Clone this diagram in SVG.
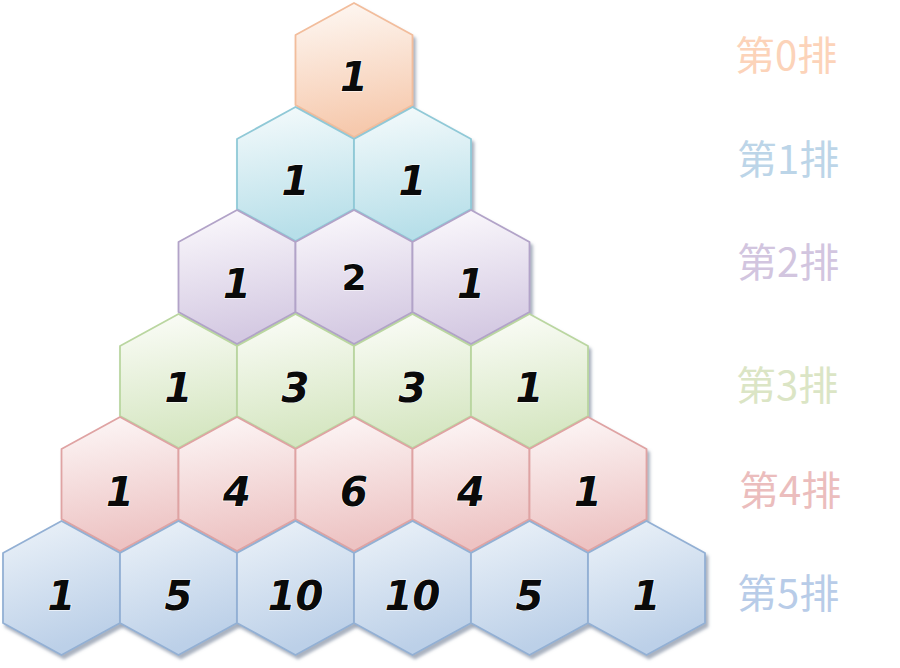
<svg xmlns="http://www.w3.org/2000/svg" xmlns:xlink="http://www.w3.org/1999/xlink" width="900" height="668" viewBox="0 0 900 668">
<defs>
  <polygon id="hex" points="0,-67 58.5,-35 58.5,35 0,67 -58.5,35 -58.5,-35"/>
  <filter id="sh" x="-20%" y="-20%" width="150%" height="150%">
    <feDropShadow dx="2.5" dy="3.5" stdDeviation="1.5" flood-color="#6f7f95" flood-opacity="0.6"/>
  </filter>
  <linearGradient id="g0" x1="0" y1="0" x2="0.15" y2="1"><stop offset="0" stop-color="#fef9f5"/><stop offset="1" stop-color="#f6c9ad"/></linearGradient>
  <linearGradient id="g1" x1="0" y1="0" x2="0.15" y2="1"><stop offset="0" stop-color="#f6fbfc"/><stop offset="1" stop-color="#b7dfe9"/></linearGradient>
  <linearGradient id="g2" x1="0" y1="0" x2="0.15" y2="1"><stop offset="0" stop-color="#fcfafd"/><stop offset="1" stop-color="#d4c9e2"/></linearGradient>
  <linearGradient id="g3" x1="0" y1="0" x2="0.15" y2="1"><stop offset="0" stop-color="#fcfdf9"/><stop offset="1" stop-color="#d5e6c1"/></linearGradient>
  <linearGradient id="g4" x1="0" y1="0" x2="0.15" y2="1"><stop offset="0" stop-color="#fdf8f8"/><stop offset="1" stop-color="#edc3c3"/></linearGradient>
  <linearGradient id="g5" x1="0" y1="0" x2="0.3" y2="1"><stop offset="0" stop-color="#edf3f9"/><stop offset="1" stop-color="#bcd0e8"/></linearGradient>
</defs>
<style>
  .h { filter: url(#sh); stroke-width: 1.8; stroke-linejoin: round; }
  .r0 { fill: url(#g0); stroke: #f2bd9c; }
  .r1 { fill: url(#g1); stroke: #90c9d7; }
  .r2 { fill: url(#g2); stroke: #b2a3c8; }
  .r3 { fill: url(#g3); stroke: #bad6a0; }
  .r4 { fill: url(#g4); stroke: #dfa3a3; }
  .r5 { fill: url(#g5); stroke: #93b0d4; }
  .n { font-family: "DejaVu Sans", "Liberation Sans", sans-serif; font-weight: bold; font-style: italic; font-size: 40px; fill: #0a0a0a; text-anchor: middle; stroke: #fff; stroke-width: 1.2; paint-order: stroke; }
  .n2 { font-style: normal; font-size: 36px; }
  .lb { font-family: "Noto Sans CJK SC", "Noto Sans", sans-serif; font-size: 40px; }
</style>
<g id="connectors"/>
<g id="row0">
  <g id="n0_0"><use href="#hex" x="354" y="70" class="h r0"/><text class="n" x="354" y="91">1</text></g>
</g>
<g id="row1">
  <g id="n1_0"><use href="#hex" x="295.5" y="174" class="h r1"/><text class="n" x="295.5" y="195">1</text></g>
  <g id="n1_1"><use href="#hex" x="412.5" y="174" class="h r1"/><text class="n" x="412.5" y="195">1</text></g>
</g>
<g id="row2">
  <g id="n2_0"><use href="#hex" x="237" y="277" class="h r2"/><text class="n" x="237" y="298">1</text></g>
  <g id="n2_1"><use href="#hex" x="354" y="277" class="h r2"/><text class="n n2" x="354" y="290">2</text></g>
  <g id="n2_2"><use href="#hex" x="471" y="277" class="h r2"/><text class="n" x="471" y="298">1</text></g>
</g>
<g id="row3">
  <g id="n3_0"><use href="#hex" x="178.5" y="381" class="h r3"/><text class="n" x="178.5" y="402">1</text></g>
  <g id="n3_1"><use href="#hex" x="295.5" y="381" class="h r3"/><text class="n" x="295.5" y="402">3</text></g>
  <g id="n3_2"><use href="#hex" x="412.5" y="381" class="h r3"/><text class="n" x="412.5" y="402">3</text></g>
  <g id="n3_3"><use href="#hex" x="529.5" y="381" class="h r3"/><text class="n" x="529.5" y="402">1</text></g>
</g>
<g id="row4">
  <g id="n4_0"><use href="#hex" x="120" y="484" class="h r4"/><text class="n" x="120" y="506">1</text></g>
  <g id="n4_1"><use href="#hex" x="237" y="484" class="h r4"/><text class="n" x="237" y="506">4</text></g>
  <g id="n4_2"><use href="#hex" x="354" y="484" class="h r4"/><text class="n" x="354" y="506">6</text></g>
  <g id="n4_3"><use href="#hex" x="471" y="484" class="h r4"/><text class="n" x="471" y="506">4</text></g>
  <g id="n4_4"><use href="#hex" x="588" y="484" class="h r4"/><text class="n" x="588" y="506">1</text></g>
</g>
<g id="row5">
  <g id="n5_0"><use href="#hex" x="61.5" y="588" class="h r5"/><text class="n" x="61.5" y="610">1</text></g>
  <g id="n5_1"><use href="#hex" x="178.5" y="588" class="h r5"/><text class="n" x="178.5" y="610">5</text></g>
  <g id="n5_2"><use href="#hex" x="295.5" y="588" class="h r5"/><text class="n" x="295.5" y="610">10</text></g>
  <g id="n5_3"><use href="#hex" x="412.5" y="588" class="h r5"/><text class="n" x="412.5" y="610">10</text></g>
  <g id="n5_4"><use href="#hex" x="529.5" y="588" class="h r5"/><text class="n" x="529.5" y="610">5</text></g>
  <g id="n5_5"><use href="#hex" x="646.5" y="588" class="h r5"/><text class="n" x="646.5" y="610">1</text></g>
</g>
<g id="labels">
  <text class="lb" x="735" y="70" fill="#fcd3b9">第0排</text>
  <text class="lb" x="737" y="174" fill="#bcd5e8">第1排</text>
  <text class="lb" x="737" y="277" fill="#d2c5df">第2排</text>
  <text class="lb" x="736" y="400" fill="#dbe5c5">第3排</text>
  <text class="lb" x="739" y="505" fill="#ebbdbd">第4排</text>
  <text class="lb" x="737" y="608" fill="#b8cce8">第5排</text>
</g>
</svg>
